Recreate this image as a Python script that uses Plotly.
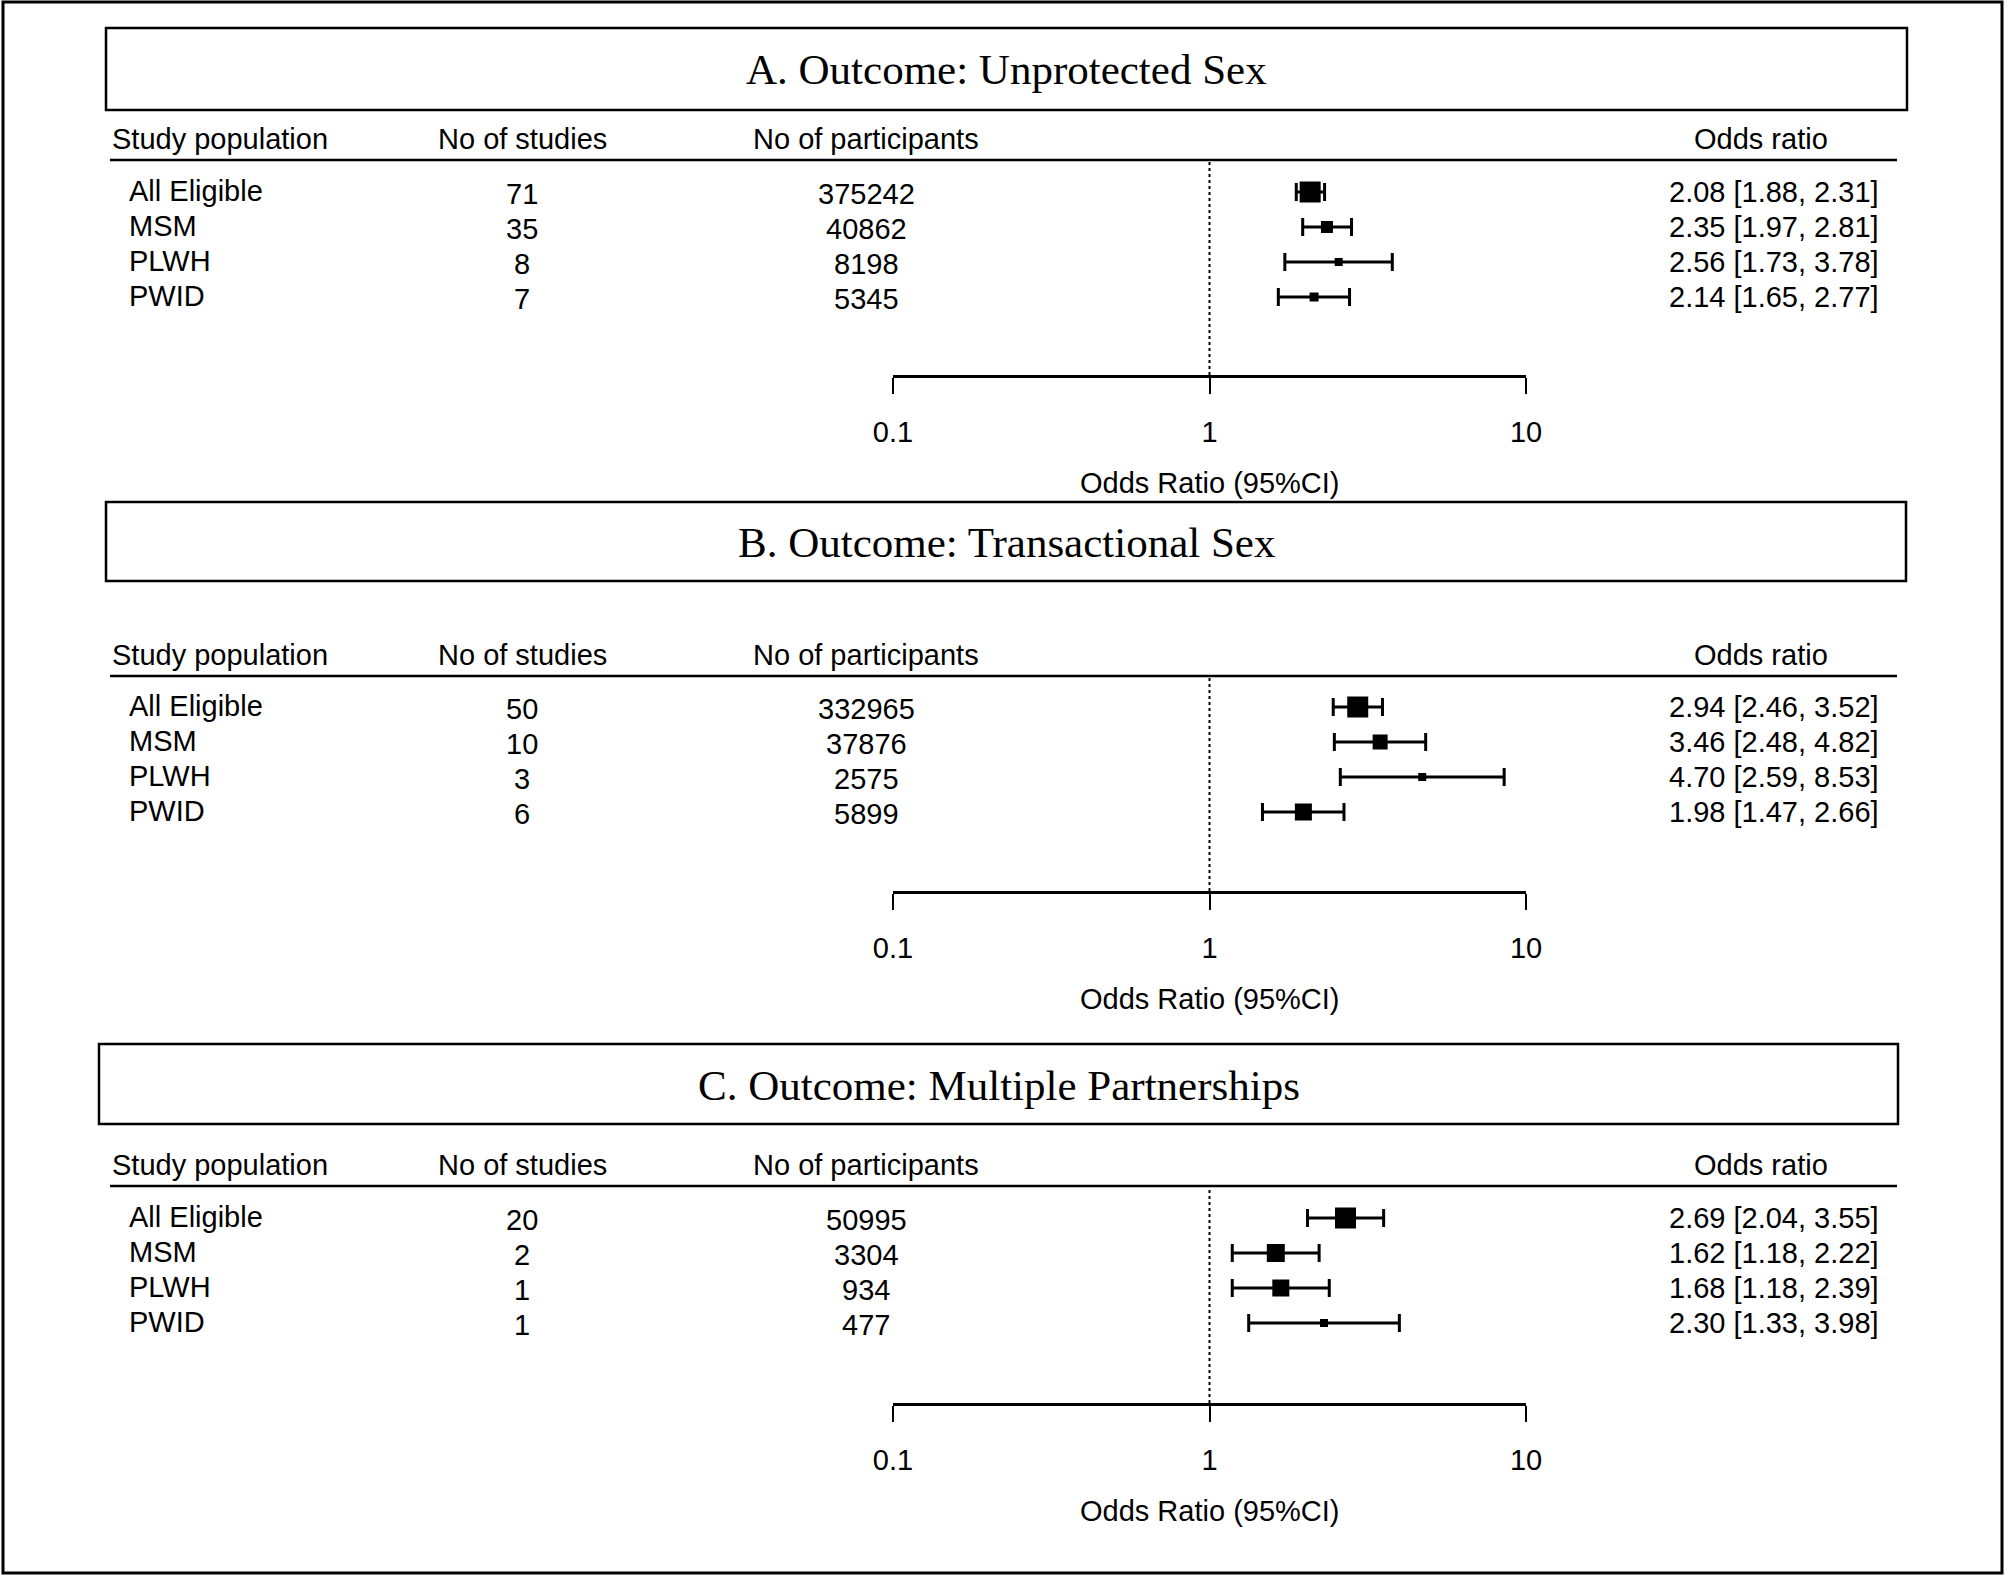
import plotly.graph_objects as go

# ---------------- data ----------------
populations = ["All Eligible", "MSM", "PLWH", "PWID"]

a_studies = [71, 35, 8, 7]
a_participants = [375242, 40862, 8198, 5345]
a_or = [2.08, 2.35, 2.56, 2.14]
a_lo = [1.88, 1.97, 1.73, 1.65]
a_hi = [2.31, 2.81, 3.78, 2.77]

b_studies = [50, 10, 3, 6]
b_participants = [332965, 37876, 2575, 5899]
b_or = [2.94, 3.46, 4.70, 1.98]
b_lo = [2.46, 2.48, 2.59, 1.47]
b_hi = [3.52, 4.82, 8.53, 2.66]

c_studies = [20, 2, 1, 1]
c_participants = [50995, 3304, 934, 477]
c_or = [2.69, 1.62, 1.68, 2.30]
c_lo = [2.04, 1.18, 1.18, 1.33]
c_hi = [3.55, 2.22, 2.39, 3.98]

panel_titles = ["A. Outcome: Unprotected Sex",
                "B. Outcome: Transactional Sex",
                "C. Outcome: Multiple Partnerships"]
column_headers = ["Study population", "No of studies", "No of participants", "Odds ratio"]
tick_values = [0.1, 1, 10]
tick_labels = ["0.1", "1", "10"]
axis_title = "Odds Ratio (95%CI)"

# ---------------- styles / layout (pixels) ----------------
W, H = 2008, 1579
SANS = "Liberation Sans, Arial, sans-serif"
SERIF = "Liberation Serif, Times New Roman, serif"
FS = 29
ROW_SP = 35
box_sizes = [[21, 12, 8, 9], [21, 15, 8, 17], [21, 18, 17, 8]]

geom = [
    dict(box=(106, 28, 1907, 110), line=160, row0=192, axis=375),
    dict(box=(106, 502, 1906, 581), line=676, row0=707, axis=891),
    dict(box=(99, 1044, 1898, 1124), line=1186, row0=1218, axis=1403),
]
X_LEFT, X_RIGHT = 893, 1526          # pixel positions of 0.1 and 10
COL_LABEL, COL_STUD, COL_PART, COL_OR_RIGHT, COL_OR_HEAD = 127, 522, 866, 1881, 1761
HEAD_X0, HEAD_X1 = 110, 1897


def fx(p):
    return p / W


def fy(p):
    return 1 - p / H


panels = [
    (a_studies, a_participants, a_or, a_lo, a_hi),
    (b_studies, b_participants, b_or, b_lo, b_hi),
    (c_studies, c_participants, c_or, c_lo, c_hi),
]

fig = go.Figure()
shapes = []
annotations = []
layout_axes = {}

for k, (studies, parts, ors, los, his) in enumerate(panels):
    g = geom[k]
    sfx = "" if k == 0 else str(k + 1)
    xname, yname = "x" + sfx, "y" + sfx

    # forest plot markers with CIs
    fig.add_trace(go.Scatter(
        x=ors, y=list(range(len(populations))),
        xaxis=xname, yaxis=yname,
        mode="markers",
        marker=dict(symbol="square", size=box_sizes[k], color="black",
                    opacity=1, line=dict(width=0)),
        error_x=dict(type="data", symmetric=False,
                     array=[h - o for h, o in zip(his, ors)],
                     arrayminus=[o - l for o, l in zip(ors, los)],
                     color="black", thickness=3, width=9),
        showlegend=False, hoverinfo="skip",
    ))

    top_val = -(g["row0"] - g["line"]) / ROW_SP
    bot_val = 3 + (g["axis"] - (g["row0"] + 3 * ROW_SP)) / ROW_SP
    layout_axes["xaxis" + sfx] = dict(
        type="log", range=[-1, 1], domain=[fx(X_LEFT), fx(X_RIGHT)],
        anchor=yname, showgrid=False, zeroline=False, automargin=False,
        showline=True, linecolor="black", linewidth=3,
        ticks="outside", ticklen=16, tickwidth=2, tickcolor="black",
        tickvals=tick_values, ticktext=tick_labels,
        tickfont=dict(family=SANS, size=FS, color="black"),
        ticklabelstandoff=13, fixedrange=True,
    )
    layout_axes["yaxis" + sfx] = dict(
        domain=[fy(g["axis"]), fy(g["line"])], range=[bot_val, top_val],
        anchor=xname, visible=False, showgrid=False, zeroline=False,
        automargin=False, fixedrange=True,
    )

    # reference line at OR = 1
    shapes.append(dict(type="line", xref=xname, yref=yname + " domain",
                       x0=1, x1=1, y0=0, y1=1,
                       line=dict(color="black", width=2, dash="dot")))

    # title box
    x0, y0, x1, y1 = g["box"]
    shapes.append(dict(type="rect", xref="paper", yref="paper",
                       x0=fx(x0), x1=fx(x1), y0=fy(y1), y1=fy(y0),
                       line=dict(color="black", width=2.5)))
    annotations.append(dict(text=panel_titles[k], xref="paper", yref="paper",
                            x=fx((x0 + x1) / 2), y=fy((y0 + y1) / 2 + 1),
                            xanchor="center", yanchor="middle", showarrow=False,
                            font=dict(family=SERIF, size=43, color="black")))

    # header row + underline
    hy = fy(g["line"] - 21)
    hdr_pos = [(COL_LABEL - 17, "left"), (COL_STUD, "center"), (COL_PART, "center"), (COL_OR_HEAD, "center")]
    for txt, (xp, anc) in zip(column_headers, hdr_pos):
        annotations.append(dict(text=txt, xref="paper", yref="paper", x=fx(xp), y=hy,
                                xanchor=anc, yanchor="middle", showarrow=False,
                                font=dict(family=SANS, size=FS, color="black")))
    shapes.append(dict(type="line", xref="paper", yref="paper",
                       x0=fx(HEAD_X0), x1=fx(HEAD_X1), y0=fy(g["line"]), y1=fy(g["line"]),
                       line=dict(color="black", width=2.5)))

    # table rows
    for i, pop in enumerate(populations):
        annotations.append(dict(text=pop, xref="paper", yref=yname, x=fx(COL_LABEL), y=i,
                                xanchor="left", yanchor="middle", showarrow=False, yshift=1,
                                font=dict(family=SANS, size=FS, color="black")))
        annotations.append(dict(text=str(studies[i]), xref="paper", yref=yname, x=fx(COL_STUD), y=i,
                                xanchor="center", yanchor="middle", showarrow=False, yshift=-2,
                                font=dict(family=SANS, size=FS, color="black")))
        annotations.append(dict(text=str(parts[i]), xref="paper", yref=yname, x=fx(COL_PART), y=i,
                                xanchor="center", yanchor="middle", showarrow=False, yshift=-2,
                                font=dict(family=SANS, size=FS, color="black")))
        annotations.append(dict(text=f"{ors[i]:.2f} [{los[i]:.2f}, {his[i]:.2f}]",
                                xref="paper", yref=yname, x=fx(COL_OR_RIGHT), y=i,
                                xanchor="right", yanchor="middle", showarrow=False,
                                font=dict(family=SANS, size=FS, color="black")))

    # axis title
    annotations.append(dict(text=axis_title, xref=xname, yref="paper", x=0, y=fy(g["axis"] + 108),
                            xanchor="center", yanchor="middle", showarrow=False,
                            font=dict(family=SANS, size=FS, color="black")))

# outer frame
shapes.append(dict(type="rect", xref="paper", yref="paper",
                   x0=fx(3), x1=fx(2002), y0=fy(1573), y1=fy(2),
                   line=dict(color="black", width=3)))

fig.update_layout(
    template="none",
    width=W, height=H, margin=dict(l=0, r=0, t=0, b=0, pad=0, autoexpand=False),
    paper_bgcolor="white", plot_bgcolor="white",
    shapes=shapes, annotations=annotations, showlegend=False,
    **layout_axes,
)

fig.write_html("out.html", config={"displayModeBar": False},
               post_script="document.body.style.margin='0px';document.body.style.overflow='hidden';")
